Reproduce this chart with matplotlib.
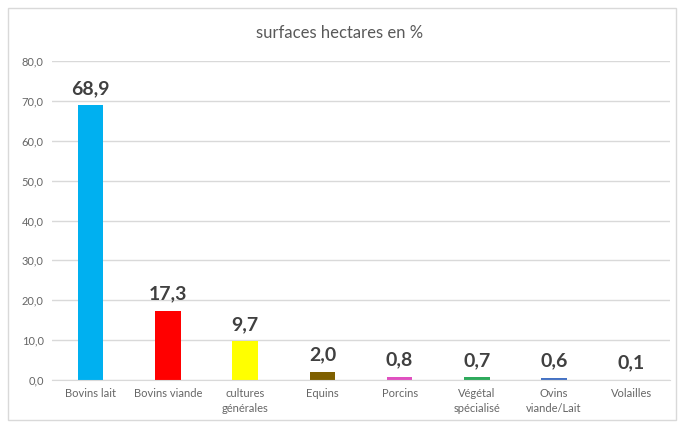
import matplotlib
matplotlib.use("Agg")
import matplotlib.pyplot as plt
from matplotlib.patches import Rectangle

categories = ["Bovins lait", "Bovins viande", "cultures\ngénérales", "Equins",
              "Porcins", "Végétal\nspécialisé", "Ovins\nviande/Lait", "Volailles"]
values = [68.9, 17.3, 9.7, 2.0, 0.8, 0.7, 0.6, 0.1]
colors = ["#00B0F0", "#FF0000", "#FFFF00", "#7F6000", "#E050C0", "#2EAA5C", "#4472C4", "#A5A5A5"]
yticks = [0, 10, 20, 30, 40, 50, 60, 70, 80]
title = "surfaces hectares en %"

plt.rcParams['font.family'] = ['Lato', 'DejaVu Sans']

fig = plt.figure(figsize=(6.8, 4.22), dpi=100)
fig.patches.append(Rectangle((8/680, 1-420/422), 668/680, 412/422, transform=fig.transFigure,
                             fill=False, edgecolor="#D9D9D9", linewidth=1))
ax = fig.add_axes([52/680, 1-380/422, 618/680, 319/422])

x = list(range(len(categories)))
ax.bar(x, values, width=0.33, color=colors, zorder=3)
for xi, v in zip(x, values):
    ax.annotate(f"{v:.1f}".replace(".", ","), (xi, v), xytext=(0, 6), textcoords="offset points",
                ha="center", va="bottom", fontsize=14, fontweight="bold", color="#404040")

ax.set_ylim(0, 80)
ax.set_xlim(-0.5, len(categories) - 0.5)
ax.set_yticks(yticks)
ax.set_yticklabels([f"{t:.1f}".replace(".", ",") for t in yticks], fontsize=8, color="#666666")
ax.set_xticks(x)
ax.set_xticklabels(categories, fontsize=8, color="#666666", linespacing=1.4)
ax.tick_params(length=0, pad=6)
ax.grid(axis="y", color="#D9D9D9", linewidth=1, zorder=0)
for s in ["top", "right", "left"]:
    ax.spines[s].set_visible(False)
ax.spines["bottom"].set_color("#D9D9D9")
ax.spines["bottom"].set_zorder(4)

fig.text(0.5, 1-33/422, title, ha="center", va="center", fontsize=12, color="#595959")

fig.savefig("out.png", dpi=100)
